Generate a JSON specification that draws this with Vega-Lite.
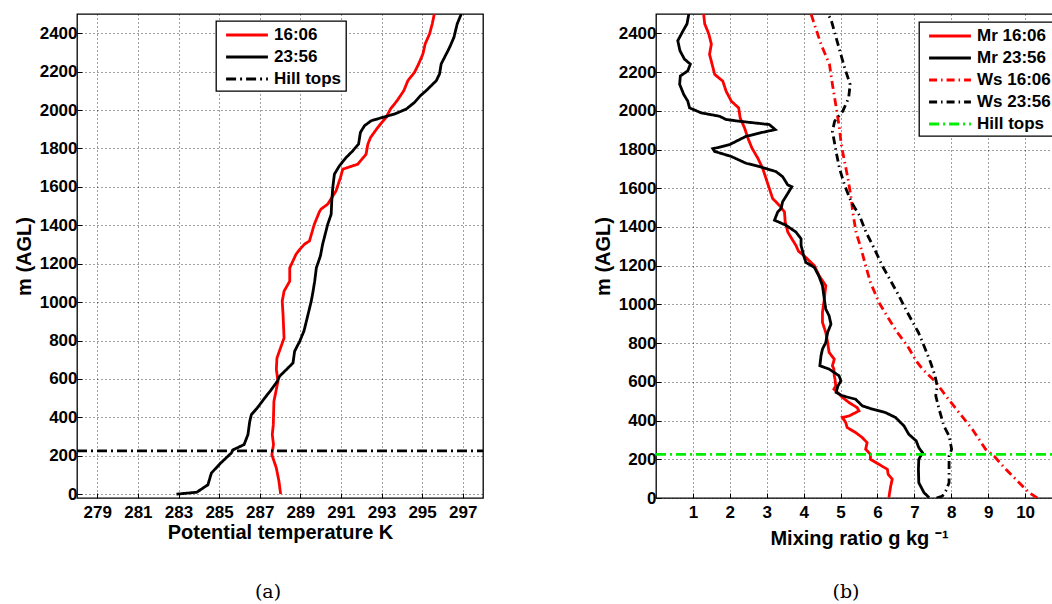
{
  "$schema": "https://vega.github.io/schema/vega-lite/v6.json",
  "background": "white",
  "padding": {"left": 13, "top": 13, "right": 0, "bottom": 0},
  "spacing": 108,
  "datasets": {
    "a": [
      {"s": "16:06", "x": 288.03, "h": 0}, {"s": "16:06", "x": 287.95, "h": 66}, {"s": "16:06", "x": 287.82, "h": 136},
      {"s": "16:06", "x": 287.6, "h": 205}, {"s": "16:06", "x": 287.68, "h": 258}, {"s": "16:06", "x": 287.62, "h": 310},
      {"s": "16:06", "x": 287.67, "h": 362}, {"s": "16:06", "x": 287.7, "h": 483}, {"s": "16:06", "x": 287.9, "h": 588},
      {"s": "16:06", "x": 287.82, "h": 650}, {"s": "16:06", "x": 287.85, "h": 709}, {"s": "16:06", "x": 288.2, "h": 813},
      {"s": "16:06", "x": 288.15, "h": 935}, {"s": "16:06", "x": 288.11, "h": 1005}, {"s": "16:06", "x": 288.2, "h": 1057},
      {"s": "16:06", "x": 288.48, "h": 1109}, {"s": "16:06", "x": 288.48, "h": 1178}, {"s": "16:06", "x": 288.79, "h": 1249},
      {"s": "16:06", "x": 288.97, "h": 1274}, {"s": "16:06", "x": 289.2, "h": 1301}, {"s": "16:06", "x": 289.45, "h": 1318},
      {"s": "16:06", "x": 289.69, "h": 1405}, {"s": "16:06", "x": 289.94, "h": 1470}, {"s": "16:06", "x": 290.02, "h": 1484},
      {"s": "16:06", "x": 290.35, "h": 1510}, {"s": "16:06", "x": 290.76, "h": 1579}, {"s": "16:06", "x": 290.98, "h": 1649},
      {"s": "16:06", "x": 291.09, "h": 1692}, {"s": "16:06", "x": 291.83, "h": 1718}, {"s": "16:06", "x": 292.24, "h": 1770},
      {"s": "16:06", "x": 292.33, "h": 1823}, {"s": "16:06", "x": 292.46, "h": 1857}, {"s": "16:06", "x": 292.82, "h": 1910},
      {"s": "16:06", "x": 293.23, "h": 1962}, {"s": "16:06", "x": 293.44, "h": 2005}, {"s": "16:06", "x": 293.77, "h": 2049},
      {"s": "16:06", "x": 294.1, "h": 2101}, {"s": "16:06", "x": 294.3, "h": 2153}, {"s": "16:06", "x": 294.63, "h": 2197},
      {"s": "16:06", "x": 294.83, "h": 2240}, {"s": "16:06", "x": 295.04, "h": 2292}, {"s": "16:06", "x": 295.15, "h": 2344},
      {"s": "16:06", "x": 295.37, "h": 2397}, {"s": "16:06", "x": 295.5, "h": 2449}, {"s": "16:06", "x": 295.6, "h": 2500},
      {"s": "23:56", "x": 282.9, "h": 0}, {"s": "23:56", "x": 283.9, "h": 10}, {"s": "23:56", "x": 284.45, "h": 49},
      {"s": "23:56", "x": 284.62, "h": 110}, {"s": "23:56", "x": 285.08, "h": 162}, {"s": "23:56", "x": 285.6, "h": 214},
      {"s": "23:56", "x": 285.69, "h": 231}, {"s": "23:56", "x": 286.23, "h": 258}, {"s": "23:56", "x": 286.42, "h": 310},
      {"s": "23:56", "x": 286.51, "h": 379}, {"s": "23:56", "x": 286.59, "h": 414}, {"s": "23:56", "x": 286.88, "h": 449},
      {"s": "23:56", "x": 287.25, "h": 501}, {"s": "23:56", "x": 287.57, "h": 544}, {"s": "23:56", "x": 287.87, "h": 588},
      {"s": "23:56", "x": 287.98, "h": 614}, {"s": "23:56", "x": 288.31, "h": 648}, {"s": "23:56", "x": 288.64, "h": 683},
      {"s": "23:56", "x": 288.72, "h": 744}, {"s": "23:56", "x": 288.97, "h": 796}, {"s": "23:56", "x": 289.18, "h": 849},
      {"s": "23:56", "x": 289.38, "h": 935}, {"s": "23:56", "x": 289.54, "h": 1005}, {"s": "23:56", "x": 289.63, "h": 1057},
      {"s": "23:56", "x": 289.71, "h": 1109}, {"s": "23:56", "x": 289.79, "h": 1178}, {"s": "23:56", "x": 289.99, "h": 1240},
      {"s": "23:56", "x": 290.1, "h": 1301}, {"s": "23:56", "x": 290.35, "h": 1405}, {"s": "23:56", "x": 290.52, "h": 1457},
      {"s": "23:56", "x": 290.55, "h": 1527}, {"s": "23:56", "x": 290.6, "h": 1597}, {"s": "23:56", "x": 290.68, "h": 1666},
      {"s": "23:56", "x": 290.93, "h": 1710}, {"s": "23:56", "x": 291.26, "h": 1753}, {"s": "23:56", "x": 291.59, "h": 1788},
      {"s": "23:56", "x": 291.87, "h": 1823}, {"s": "23:56", "x": 291.96, "h": 1883}, {"s": "23:56", "x": 292.16, "h": 1918},
      {"s": "23:56", "x": 292.49, "h": 1944}, {"s": "23:56", "x": 293.07, "h": 1962}, {"s": "23:56", "x": 293.64, "h": 1979},
      {"s": "23:56", "x": 294.22, "h": 2005}, {"s": "23:56", "x": 294.63, "h": 2040}, {"s": "23:56", "x": 294.92, "h": 2075},
      {"s": "23:56", "x": 295.2, "h": 2101}, {"s": "23:56", "x": 295.7, "h": 2153}, {"s": "23:56", "x": 295.86, "h": 2188},
      {"s": "23:56", "x": 295.94, "h": 2240}, {"s": "23:56", "x": 296.11, "h": 2275}, {"s": "23:56", "x": 296.36, "h": 2327},
      {"s": "23:56", "x": 296.57, "h": 2379}, {"s": "23:56", "x": 296.73, "h": 2449}, {"s": "23:56", "x": 296.93, "h": 2500},
      {"s": "Hill tops", "x": 278, "h": 225}, {"s": "Hill tops", "x": 298, "h": 225}
    ],
    "b": [
      {"s": "Mr 16:06", "x": 6.31, "h": 2}, {"s": "Mr 16:06", "x": 6.33, "h": 28}, {"s": "Mr 16:06", "x": 6.36, "h": 62},
      {"s": "Mr 16:06", "x": 6.4, "h": 97}, {"s": "Mr 16:06", "x": 6.29, "h": 122}, {"s": "Mr 16:06", "x": 6.27, "h": 148},
      {"s": "Mr 16:06", "x": 6.04, "h": 174}, {"s": "Mr 16:06", "x": 5.81, "h": 200}, {"s": "Mr 16:06", "x": 5.81, "h": 226},
      {"s": "Mr 16:06", "x": 5.68, "h": 252}, {"s": "Mr 16:06", "x": 5.72, "h": 286}, {"s": "Mr 16:06", "x": 5.59, "h": 312},
      {"s": "Mr 16:06", "x": 5.41, "h": 338}, {"s": "Mr 16:06", "x": 5.18, "h": 364}, {"s": "Mr 16:06", "x": 5.14, "h": 390},
      {"s": "Mr 16:06", "x": 5.05, "h": 416}, {"s": "Mr 16:06", "x": 5.23, "h": 424}, {"s": "Mr 16:06", "x": 5.5, "h": 450},
      {"s": "Mr 16:06", "x": 5.45, "h": 467}, {"s": "Mr 16:06", "x": 5.23, "h": 493}, {"s": "Mr 16:06", "x": 5.05, "h": 520},
      {"s": "Mr 16:06", "x": 4.92, "h": 545}, {"s": "Mr 16:06", "x": 4.82, "h": 562}, {"s": "Mr 16:06", "x": 4.87, "h": 579},
      {"s": "Mr 16:06", "x": 4.85, "h": 614}, {"s": "Mr 16:06", "x": 4.83, "h": 631}, {"s": "Mr 16:06", "x": 4.82, "h": 666},
      {"s": "Mr 16:06", "x": 4.78, "h": 683}, {"s": "Mr 16:06", "x": 4.83, "h": 717}, {"s": "Mr 16:06", "x": 4.69, "h": 752},
      {"s": "Mr 16:06", "x": 4.65, "h": 803}, {"s": "Mr 16:06", "x": 4.6, "h": 855}, {"s": "Mr 16:06", "x": 4.51, "h": 907},
      {"s": "Mr 16:06", "x": 4.51, "h": 959}, {"s": "Mr 16:06", "x": 4.56, "h": 1028}, {"s": "Mr 16:06", "x": 4.6, "h": 1097},
      {"s": "Mr 16:06", "x": 4.42, "h": 1148}, {"s": "Mr 16:06", "x": 4.29, "h": 1200}, {"s": "Mr 16:06", "x": 4.02, "h": 1250},
      {"s": "Mr 16:06", "x": 3.86, "h": 1275}, {"s": "Mr 16:06", "x": 3.79, "h": 1305}, {"s": "Mr 16:06", "x": 3.68, "h": 1339},
      {"s": "Mr 16:06", "x": 3.57, "h": 1374}, {"s": "Mr 16:06", "x": 3.5, "h": 1426}, {"s": "Mr 16:06", "x": 3.48, "h": 1478},
      {"s": "Mr 16:06", "x": 3.34, "h": 1512}, {"s": "Mr 16:06", "x": 3.16, "h": 1547}, {"s": "Mr 16:06", "x": 3.07, "h": 1599},
      {"s": "Mr 16:06", "x": 2.98, "h": 1651}, {"s": "Mr 16:06", "x": 2.89, "h": 1703}, {"s": "Mr 16:06", "x": 2.76, "h": 1755},
      {"s": "Mr 16:06", "x": 2.6, "h": 1807}, {"s": "Mr 16:06", "x": 2.49, "h": 1859}, {"s": "Mr 16:06", "x": 2.4, "h": 1911},
      {"s": "Mr 16:06", "x": 2.28, "h": 1963}, {"s": "Mr 16:06", "x": 2.24, "h": 2015}, {"s": "Mr 16:06", "x": 2.04, "h": 2050},
      {"s": "Mr 16:06", "x": 1.9, "h": 2101}, {"s": "Mr 16:06", "x": 1.81, "h": 2153}, {"s": "Mr 16:06", "x": 1.59, "h": 2188},
      {"s": "Mr 16:06", "x": 1.52, "h": 2240}, {"s": "Mr 16:06", "x": 1.45, "h": 2292}, {"s": "Mr 16:06", "x": 1.5, "h": 2344},
      {"s": "Mr 16:06", "x": 1.43, "h": 2397}, {"s": "Mr 16:06", "x": 1.32, "h": 2449}, {"s": "Mr 16:06", "x": 1.29, "h": 2500},
      {"s": "Mr 23:56", "x": 7.4, "h": 2}, {"s": "Mr 23:56", "x": 7.26, "h": 28}, {"s": "Mr 23:56", "x": 7.12, "h": 79},
      {"s": "Mr 23:56", "x": 7.11, "h": 148}, {"s": "Mr 23:56", "x": 7.12, "h": 200}, {"s": "Mr 23:56", "x": 7.22, "h": 234},
      {"s": "Mr 23:56", "x": 7.12, "h": 260}, {"s": "Mr 23:56", "x": 7.05, "h": 295}, {"s": "Mr 23:56", "x": 6.85, "h": 329},
      {"s": "Mr 23:56", "x": 6.72, "h": 372}, {"s": "Mr 23:56", "x": 6.49, "h": 416}, {"s": "Mr 23:56", "x": 6.22, "h": 441},
      {"s": "Mr 23:56", "x": 5.86, "h": 459}, {"s": "Mr 23:56", "x": 5.59, "h": 476}, {"s": "Mr 23:56", "x": 5.41, "h": 510},
      {"s": "Mr 23:56", "x": 5.05, "h": 528}, {"s": "Mr 23:56", "x": 4.88, "h": 545}, {"s": "Mr 23:56", "x": 4.93, "h": 579},
      {"s": "Mr 23:56", "x": 5.01, "h": 605}, {"s": "Mr 23:56", "x": 4.96, "h": 631}, {"s": "Mr 23:56", "x": 4.69, "h": 666},
      {"s": "Mr 23:56", "x": 4.44, "h": 683}, {"s": "Mr 23:56", "x": 4.47, "h": 734}, {"s": "Mr 23:56", "x": 4.51, "h": 769},
      {"s": "Mr 23:56", "x": 4.6, "h": 803}, {"s": "Mr 23:56", "x": 4.65, "h": 855}, {"s": "Mr 23:56", "x": 4.74, "h": 898},
      {"s": "Mr 23:56", "x": 4.69, "h": 941}, {"s": "Mr 23:56", "x": 4.6, "h": 976}, {"s": "Mr 23:56", "x": 4.56, "h": 1028},
      {"s": "Mr 23:56", "x": 4.51, "h": 1097}, {"s": "Mr 23:56", "x": 4.41, "h": 1148}, {"s": "Mr 23:56", "x": 4.29, "h": 1191},
      {"s": "Mr 23:56", "x": 4.06, "h": 1217}, {"s": "Mr 23:56", "x": 4.0, "h": 1253}, {"s": "Mr 23:56", "x": 3.93, "h": 1305},
      {"s": "Mr 23:56", "x": 3.93, "h": 1339}, {"s": "Mr 23:56", "x": 3.79, "h": 1374}, {"s": "Mr 23:56", "x": 3.52, "h": 1409},
      {"s": "Mr 23:56", "x": 3.21, "h": 1435}, {"s": "Mr 23:56", "x": 3.3, "h": 1478}, {"s": "Mr 23:56", "x": 3.39, "h": 1495},
      {"s": "Mr 23:56", "x": 3.43, "h": 1530}, {"s": "Mr 23:56", "x": 3.57, "h": 1573}, {"s": "Mr 23:56", "x": 3.68, "h": 1608},
      {"s": "Mr 23:56", "x": 3.57, "h": 1617}, {"s": "Mr 23:56", "x": 3.43, "h": 1660}, {"s": "Mr 23:56", "x": 3.25, "h": 1686},
      {"s": "Mr 23:56", "x": 2.8, "h": 1712}, {"s": "Mr 23:56", "x": 2.44, "h": 1729}, {"s": "Mr 23:56", "x": 2.04, "h": 1764},
      {"s": "Mr 23:56", "x": 1.59, "h": 1790}, {"s": "Mr 23:56", "x": 1.54, "h": 1804}, {"s": "Mr 23:56", "x": 1.99, "h": 1825},
      {"s": "Mr 23:56", "x": 2.26, "h": 1851}, {"s": "Mr 23:56", "x": 2.44, "h": 1868}, {"s": "Mr 23:56", "x": 2.8, "h": 1885},
      {"s": "Mr 23:56", "x": 3.23, "h": 1903}, {"s": "Mr 23:56", "x": 3.07, "h": 1929}, {"s": "Mr 23:56", "x": 2.26, "h": 1946},
      {"s": "Mr 23:56", "x": 1.9, "h": 1955}, {"s": "Mr 23:56", "x": 1.72, "h": 1972}, {"s": "Mr 23:56", "x": 1.23, "h": 1989},
      {"s": "Mr 23:56", "x": 0.91, "h": 2015}, {"s": "Mr 23:56", "x": 0.86, "h": 2050}, {"s": "Mr 23:56", "x": 0.75, "h": 2085},
      {"s": "Mr 23:56", "x": 0.64, "h": 2137}, {"s": "Mr 23:56", "x": 0.66, "h": 2180}, {"s": "Mr 23:56", "x": 0.86, "h": 2206},
      {"s": "Mr 23:56", "x": 0.93, "h": 2241}, {"s": "Mr 23:56", "x": 0.77, "h": 2267}, {"s": "Mr 23:56", "x": 0.65, "h": 2310},
      {"s": "Mr 23:56", "x": 0.59, "h": 2362}, {"s": "Mr 23:56", "x": 0.71, "h": 2405}, {"s": "Mr 23:56", "x": 0.84, "h": 2449},
      {"s": "Mr 23:56", "x": 0.89, "h": 2500},
      {"s": "Ws 16:06", "x": 10.33, "h": 0}, {"s": "Ws 16:06", "x": 10.11, "h": 28}, {"s": "Ws 16:06", "x": 9.84, "h": 79},
      {"s": "Ws 16:06", "x": 9.48, "h": 148}, {"s": "Ws 16:06", "x": 9.16, "h": 217}, {"s": "Ws 16:06", "x": 8.93, "h": 252},
      {"s": "Ws 16:06", "x": 8.57, "h": 355}, {"s": "Ws 16:06", "x": 8.21, "h": 441}, {"s": "Ws 16:06", "x": 7.85, "h": 528},
      {"s": "Ws 16:06", "x": 7.59, "h": 597}, {"s": "Ws 16:06", "x": 7.22, "h": 666}, {"s": "Ws 16:06", "x": 7.08, "h": 700},
      {"s": "Ws 16:06", "x": 6.81, "h": 786}, {"s": "Ws 16:06", "x": 6.54, "h": 855}, {"s": "Ws 16:06", "x": 6.31, "h": 924},
      {"s": "Ws 16:06", "x": 6.04, "h": 1010}, {"s": "Ws 16:06", "x": 5.81, "h": 1114}, {"s": "Ws 16:06", "x": 5.68, "h": 1200},
      {"s": "Ws 16:06", "x": 5.56, "h": 1286}, {"s": "Ws 16:06", "x": 5.42, "h": 1373}, {"s": "Ws 16:06", "x": 5.33, "h": 1477},
      {"s": "Ws 16:06", "x": 5.29, "h": 1547}, {"s": "Ws 16:06", "x": 5.2, "h": 1651}, {"s": "Ws 16:06", "x": 5.11, "h": 1737},
      {"s": "Ws 16:06", "x": 5.02, "h": 1824}, {"s": "Ws 16:06", "x": 4.97, "h": 1911}, {"s": "Ws 16:06", "x": 4.87, "h": 2032},
      {"s": "Ws 16:06", "x": 4.78, "h": 2136}, {"s": "Ws 16:06", "x": 4.7, "h": 2240}, {"s": "Ws 16:06", "x": 4.47, "h": 2344},
      {"s": "Ws 16:06", "x": 4.2, "h": 2500},
      {"s": "Ws 23:56", "x": 7.6, "h": 0}, {"s": "Ws 23:56", "x": 7.76, "h": 10}, {"s": "Ws 23:56", "x": 7.85, "h": 36},
      {"s": "Ws 23:56", "x": 7.94, "h": 79}, {"s": "Ws 23:56", "x": 7.94, "h": 148}, {"s": "Ws 23:56", "x": 7.94, "h": 217},
      {"s": "Ws 23:56", "x": 8.01, "h": 252}, {"s": "Ws 23:56", "x": 7.94, "h": 321}, {"s": "Ws 23:56", "x": 7.8, "h": 372},
      {"s": "Ws 23:56", "x": 7.67, "h": 459}, {"s": "Ws 23:56", "x": 7.58, "h": 528}, {"s": "Ws 23:56", "x": 7.62, "h": 579},
      {"s": "Ws 23:56", "x": 7.56, "h": 631}, {"s": "Ws 23:56", "x": 7.44, "h": 700}, {"s": "Ws 23:56", "x": 7.26, "h": 786},
      {"s": "Ws 23:56", "x": 7.11, "h": 855}, {"s": "Ws 23:56", "x": 6.81, "h": 959}, {"s": "Ws 23:56", "x": 6.58, "h": 1045},
      {"s": "Ws 23:56", "x": 6.13, "h": 1200}, {"s": "Ws 23:56", "x": 5.92, "h": 1286}, {"s": "Ws 23:56", "x": 5.69, "h": 1373},
      {"s": "Ws 23:56", "x": 5.51, "h": 1460}, {"s": "Ws 23:56", "x": 5.29, "h": 1529}, {"s": "Ws 23:56", "x": 5.11, "h": 1616},
      {"s": "Ws 23:56", "x": 4.97, "h": 1703}, {"s": "Ws 23:56", "x": 4.88, "h": 1789}, {"s": "Ws 23:56", "x": 4.78, "h": 1894},
      {"s": "Ws 23:56", "x": 4.84, "h": 1946}, {"s": "Ws 23:56", "x": 5.06, "h": 1998}, {"s": "Ws 23:56", "x": 5.22, "h": 2067},
      {"s": "Ws 23:56", "x": 5.26, "h": 2136}, {"s": "Ws 23:56", "x": 5.11, "h": 2223}, {"s": "Ws 23:56", "x": 4.93, "h": 2344},
      {"s": "Ws 23:56", "x": 4.75, "h": 2466}, {"s": "Ws 23:56", "x": 4.66, "h": 2500},
      {"s": "Hill tops", "x": 0, "h": 225}, {"s": "Hill tops", "x": 11, "h": 225}
    ]
  },
  "hconcat": [
    {
      "width": 406,
      "height": 484,
      "title": {"text": "(a)", "orient": "bottom", "frame": "group", "dx": -12, "offset": 41, "font": "DejaVu Serif", "fontSize": 19, "fontWeight": "normal", "color": "#000"},
      "data": {"name": "a"},
      "mark": {"type": "line", "strokeWidth": 2.8, "clip": true},
      "encoding": {
        "x": {"field": "x", "type": "quantitative",
              "scale": {"domain": [278, 298], "nice": false, "zero": false},
              "axis": {"values": [279, 281, 283, 285, 287, 289, 291, 293, 295, 297], "format": "d", "labelPadding": 11, "titlePadding": 2, "title": "Potential temperature K"}},
        "y": {"field": "h", "type": "quantitative",
              "scale": {"domain": [-20, 2500], "nice": false, "zero": false},
              "axis": {"values": [0, 200, 400, 600, 800, 1000, 1200, 1400, 1600, 1800, 2000, 2200, 2400], "format": "d", "title": "m (AGL)"}},
        "color": {"field": "s", "type": "nominal",
                  "scale": {"domain": ["16:06", "23:56", "Hill tops"], "range": ["#ff0000", "#000000", "#000000"]},
                  "legend": {"title": null, "orient": "none", "legendX": 139, "legendY": 7}},
        "strokeDash": {"field": "s", "type": "nominal",
                  "scale": {"domain": ["16:06", "23:56", "Hill tops"], "range": [[1, 0], [1, 0], [10, 4, 2, 4]]},
                  "legend": {"title": null, "orient": "none", "legendX": 139, "legendY": 7}},
        "order": {"field": "h", "type": "quantitative"}
      }
    },
    {
      "width": 406,
      "height": 484,
      "title": {"text": "(b)", "orient": "bottom", "frame": "group", "dx": -13, "offset": 35, "font": "DejaVu Serif", "fontSize": 19, "fontWeight": "normal", "color": "#000"},
      "data": {"name": "b"},
      "mark": {"type": "line", "strokeWidth": 2.8, "clip": true},
      "encoding": {
        "x": {"field": "x", "type": "quantitative",
              "scale": {"domain": [0, 11], "nice": false, "zero": false},
              "axis": {"values": [1, 2, 3, 4, 5, 6, 7, 8, 9, 10], "format": "d", "labelPadding": 11, "titlePadding": 8, "title": "Mixing ratio g kg ⁻¹"}},
        "y": {"field": "h", "type": "quantitative",
              "scale": {"domain": [0, 2500], "nice": false, "zero": false},
              "axis": {"values": [0, 200, 400, 600, 800, 1000, 1200, 1400, 1600, 1800, 2000, 2200, 2400], "format": "d", "title": "m (AGL)"}},
        "color": {"field": "s", "type": "nominal",
                  "scale": {"domain": ["Mr 16:06", "Mr 23:56", "Ws 16:06", "Ws 23:56", "Hill tops"], "range": ["#ff0000", "#000000", "#ff0000", "#000000", "#00ee00"]},
                  "legend": {"title": null, "orient": "none", "legendX": 263, "legendY": 8}},
        "strokeDash": {"field": "s", "type": "nominal",
                  "scale": {"domain": ["Mr 16:06", "Mr 23:56", "Ws 16:06", "Ws 23:56", "Hill tops"], "range": [[1, 0], [1, 0], [8, 4, 1.5, 4], [8, 4, 1.5, 4], [10, 4, 2, 4]]},
                  "legend": {"title": null, "orient": "none", "legendX": 263, "legendY": 8}},
        "order": {"field": "h", "type": "quantitative"}
      }
    }
  ],
  "resolve": {"scale": {"x": "independent", "y": "independent", "color": "independent", "strokeDash": "independent"}, "legend": {"color": "independent", "strokeDash": "independent"}},
  "config": {
    "view": {"stroke": "#000", "strokeWidth": 1.3},
    "axis": {
      "domain": false, "grid": true, "gridColor": "#000", "gridDash": [1, 3], "gridOpacity": 0.75, "gridWidth": 1,
      "ticks": true, "tickColor": "#000", "tickSize": -5, "tickWidth": 1,
      "labelFont": "Liberation Sans", "labelFontWeight": "bold", "labelFontSize": 17, "labelColor": "#000", "labelPadding": 5,
      "titleFont": "Liberation Sans", "titleFontWeight": "bold", "titleFontSize": 20, "titleColor": "#000", "titlePadding": 5
    },
    "legend": {
      "strokeColor": "#000", "fillColor": "#fff", "padding": 4, "strokeWidth": 1.3,
      "labelFont": "Liberation Sans", "labelFontWeight": "bold", "labelFontSize": 17, "labelColor": "#000",
      "symbolType": "M-2.5,0L2.5,0", "symbolSize": 280, "symbolStrokeWidth": 2.8, "symbolOffset": 17, "rowPadding": 4, "labelOffset": 17
    }
  }
}
